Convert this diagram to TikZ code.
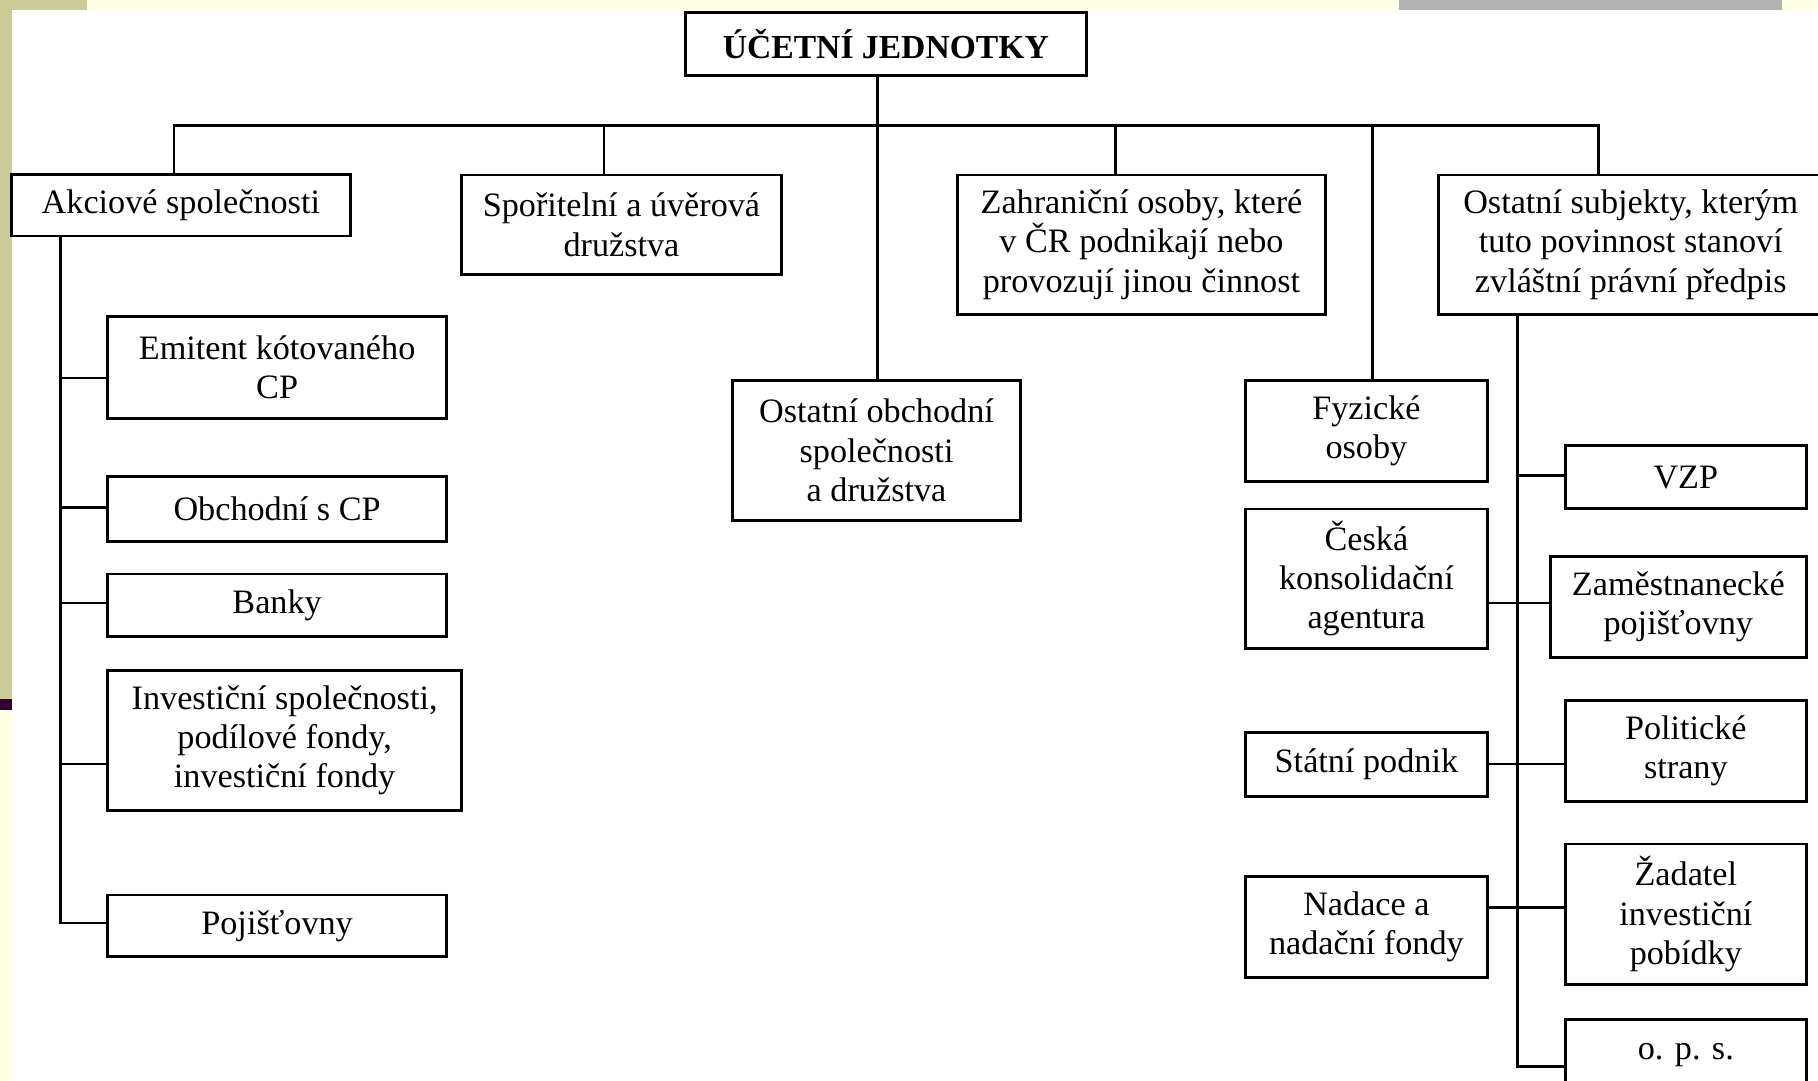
\documentclass[tikz,border=0pt]{standalone}
\usepackage{fontspec}
\setmainfont{Liberation Serif}
\definecolor{bgyellow}{HTML}{FFFFE3}
\definecolor{bgolive}{HTML}{CCCC99}
\definecolor{bggray}{HTML}{B2B2B2}
\definecolor{bgpurple}{HTML}{330033}
\begin{document}
\begin{tikzpicture}[x=1pt,y=-1pt,
  box/.style={draw=black, line width=2.4pt, align=center, inner sep=0pt,
              font=\fontsize{29.5}{34}\selectfont},
  conn/.style={line width=2.4pt}]
\useasboundingbox (0,0) rectangle (1568,932);
% background strips
\fill[white] (0,0) rectangle (1568,932);
\fill[bgyellow] (0,0) rectangle (1568,9);
\fill[bgolive] (0,0) rectangle (75,9);
\fill[bggray] (1207,0) rectangle (1537,9);
\fill[bgolive] (0,0) rectangle (10,603);
\fill[bgpurple] (0,603) rectangle (10,612);
\fill[bgyellow] (0,612) rectangle (10,932);

% nodes
\node[box, minimum width=346pt, minimum height=54pt, font=\fontsize{29}{34}\selectfont\bfseries] (root) at (764,38) {ÚČETNÍ JEDNOTKY};
\node[box, minimum width=292pt, minimum height=53pt] (akc) at (156,177) {Akciové společnosti};
\node[box, minimum width=276pt, minimum height=86pt] (spor) at (536,194) {Spořitelní a úvěrová\\družstva};
\node[box, minimum width=317pt, minimum height=120pt] (zahr) at (984.5,211) {Zahraniční osoby, které\\v ČR podnikají nebo\\provozují jinou činnost};
\node[box, minimum width=331pt, minimum height=120pt] (ostsub) at (1406.5,211) {Ostatní subjekty, kterým\\tuto povinnost stanoví\\zvláštní právní předpis};
\node[box, minimum width=248pt, minimum height=121pt] (ostobch) at (756,388.5) {Ostatní obchodní\\společnosti\\a družstva};
\node[box, minimum width=209pt, minimum height=87pt] (fyz) at (1178.5,371.5) {Fyzické\\osoby};
\node[box, minimum width=209pt, minimum height=120pt] (ceska) at (1178.5,499) {Česká\\konsolidační\\agentura};
\node[box, minimum width=209pt, minimum height=55pt] (statni) at (1178.5,659.5) {Státní podnik};
\node[box, minimum width=209pt, minimum height=87pt] (nadace) at (1178.5,799.5) {Nadace a\\nadační fondy};
\node[box, minimum width=208pt, minimum height=54pt] (vzp) at (1454,411.5) {VZP};
\node[box, minimum width=221pt, minimum height=87pt] (zam) at (1447.5,523.5) {Zaměstnanecké\\pojišťovny};
\node[box, minimum width=208pt, minimum height=87pt] (polit) at (1454,647.5) {Politické\\strany};
\node[box, minimum width=208pt, minimum height=121pt] (zad) at (1454,788.5) {Žadatel\\investiční\\pobídky};
\node[box, minimum width=208pt, minimum height=62pt] (ops) at (1454,910) {o. p. s.};
\node[box, minimum width=292pt, minimum height=88pt] (emit) at (239,317) {Emitent kótovaného\\CP};
\node[box, minimum width=292pt, minimum height=56pt] (obch) at (239,439) {Obchodní s CP};
\node[box, minimum width=292pt, minimum height=54pt] (banky) at (239,522) {Banky};
\node[box, minimum width=305pt, minimum height=121pt] (invest) at (245.5,638.5) {Investiční společnosti,\\podílové fondy,\\investiční fondy};
\node[box, minimum width=292pt, minimum height=53pt] (poj) at (239,798.5) {Pojišťovny};

% connector points
\coordinate (hub) at (757,108);
\coordinate (d1) at (150,108);
\coordinate (d2) at (521,108);
\coordinate (d4) at (962,108);
\coordinate (d5) at (1184,108);
\coordinate (d6) at (1379,108);
\coordinate (lt) at (52,796);
\coordinate (l1) at (52,326);
\coordinate (l2) at (52,438);
\coordinate (l3) at (52,520);
\coordinate (l4) at (52,659);
\coordinate (rt) at (1309,920);
\coordinate (r1) at (1309,410);
\coordinate (r2) at (1309,520);
\coordinate (r3) at (1309,659);
\coordinate (r4) at (1309,783);

% top level
\draw[conn] (root.south -| hub) -- (hub);
\draw[conn] (akc.north -| d1) -- (d1) -- (d6) -- (ostsub.north -| d6);
\draw[conn] (d2) -- (spor.north -| d2);
\draw[conn] (hub) -- (ostobch.north -| hub);
\draw[conn] (d4) -- (zahr.north -| d4);
\draw[conn] (d5) -- (fyz.north -| d5);

% left trunk
\draw[conn] (akc.south -| lt) -- (lt) -- (poj.west |- lt);
\draw[conn] (l1) -- (emit.west |- l1);
\draw[conn] (l2) -- (obch.west |- l2);
\draw[conn] (l3) -- (banky.west |- l3);
\draw[conn] (l4) -- (invest.west |- l4);

% right trunk
\draw[conn] (ostsub.south -| rt) -- (rt) -- (ops.west |- rt);
\draw[conn] (r1) -- (vzp.west |- r1);
\draw[conn] (ceska.east |- r2) -- (zam.west |- r2);
\draw[conn] (statni.east |- r3) -- (polit.west |- r3);
\draw[conn] (nadace.east |- r4) -- (zad.west |- r4);
\end{tikzpicture}
\end{document}
